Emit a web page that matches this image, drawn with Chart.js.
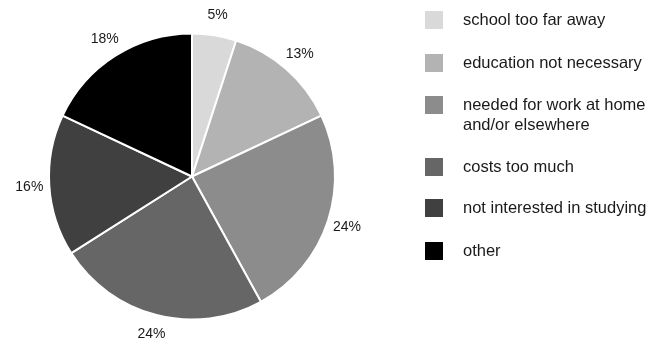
<!DOCTYPE html>
<html>
<head>
<meta charset="utf-8">
<script src="https://cdn.jsdelivr.net/npm/chart.js@4.4.1/dist/chart.umd.min.js"></script>
<style>
  html, body { margin: 0; padding: 0; background: #fff; }
  #wrap { position: relative; width: 648px; height: 341px; }
</style>
</head>
<body>
<div id="wrap"><canvas id="chart_reasons"></canvas></div>
<script>
const reasons = [
  ['school too far away'],
  ['education not necessary'],
  ['needed for work at home', 'and/or elsewhere'],
  ['costs too much'],
  ['not interested in studying'],
  ['other']
];
const shares = [5, 13, 24, 24, 16, 18];
const shades = ['#d9d9d9', '#b3b3b3', '#8c8c8c', '#666666', '#404040', '#000000'];

const FONT = '"Liberation Sans", Arial, sans-serif';

// percent labels just outside each slice
const sliceLabels = {
  id: 'sliceLabels',
  afterDatasetsDraw(chart) {
    const ctx = chart.ctx;
    const meta = chart.getDatasetMeta(0);
    ctx.save();
    ctx.font = '14px ' + FONT;
    ctx.fillStyle = '#1a1a1a';
    ctx.textAlign = 'center';
    ctx.textBaseline = 'middle';
    meta.data.forEach((arc, i) => {
      const p = arc.getProps(['x', 'y', 'startAngle', 'endAngle', 'outerRadius'], true);
      const mid = (p.startAngle + p.endAngle) / 2;
      const r = p.outerRadius + 20;
      ctx.fillText(shares[i] + '%', p.x + Math.cos(mid) * r, p.y + Math.sin(mid) * r);
    });
    ctx.restore();
  }
};

// legend on the right, square swatches, wrapped item on two lines
const sideLegend = {
  id: 'sideLegend',
  afterDraw(chart) {
    const ctx = chart.ctx;
    const rows = [20, 63, 105, 167, 208, 251];
    ctx.save();
    ctx.font = '16.5px ' + FONT;
    ctx.textBaseline = 'middle';
    ctx.textAlign = 'left';
    reasons.forEach((lines, i) => {
      ctx.fillStyle = shades[i];
      ctx.fillRect(425, rows[i] - 9, 18, 18);
      ctx.fillStyle = '#1a1a1a';
      lines.forEach((t, j) => ctx.fillText(t, 463, rows[i] + j * 20));
    });
    ctx.restore();
  }
};

new Chart(document.getElementById('chart_reasons'), {
  type: 'pie',
  data: {
    labels: reasons.map(l => l.join(' ')),
    datasets: [{
      data: shares,
      backgroundColor: shades,
      borderColor: '#ffffff',
      borderWidth: 2
    }]
  },
  plugins: [sliceLabels, sideLegend],
  options: {
    responsive: true,
    maintainAspectRatio: false,
    animation: false,
    layout: {
      padding: { left: 48, right: 312, top: 32, bottom: 20 }
    },
    plugins: {
      legend: { display: false },
      tooltip: { enabled: false }
    }
  }
});
</script>
</body>
</html>
